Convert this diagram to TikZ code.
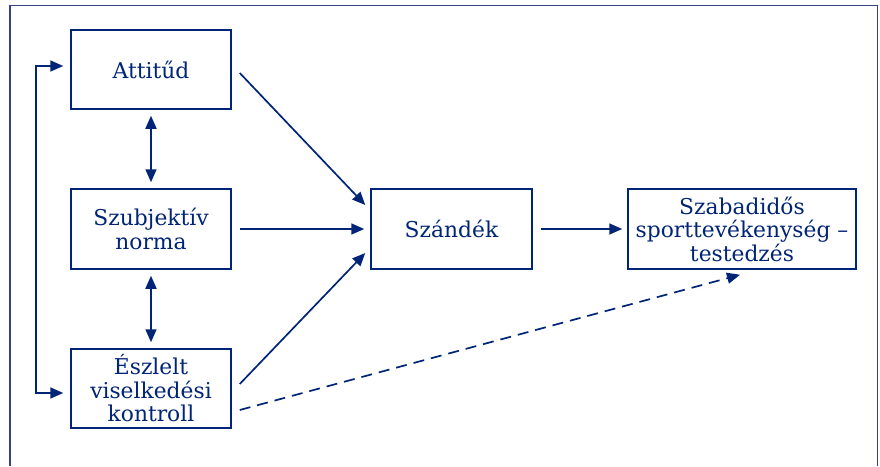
\documentclass[tikz,border=0pt]{standalone}
\usepackage{fontspec}
\setmainfont{DejaVu Serif}
\usetikzlibrary{arrows.meta,calc}
\definecolor{navy}{RGB}{0,36,118}
\definecolor{framec}{RGB}{55,65,135}
\begin{document}
\begin{tikzpicture}[x=1pt,y=-1pt,
  box/.style={draw=navy,line width=1.5pt,minimum width=160pt,minimum height=79pt,inner sep=0pt,align=center,text=navy,font=\fontsize{21.8}{23.5}\selectfont},
  arr/.style={draw=navy,line width=1.7pt,-{Triangle[length=13pt,width=11pt]}},
  dbl/.style={draw=navy,line width=1.7pt,{Triangle[length=13pt,width=11pt]}-{Triangle[length=13pt,width=11pt]}},
  dsh/.style={arr,dash pattern=on 11pt off 7pt}]
\useasboundingbox (0,0) rectangle (880,466);
\draw[framec,line width=1.8pt] (10,466) -- (10,5.5) -- (877.5,5.5) -- (877.5,466);
\node[box] (att) at (151,69.5) {Attitűd};
\node[box,minimum height=80pt] (szub) at (151,229) {Szubjektív\\norma};
\node[box] (esz) at (151,388.5) {Észlelt\\viselkedési\\kontroll};
\node[box,minimum width=161pt,minimum height=80pt] (sza) at (451.5,229) {Szándék};
\node[box,minimum width=228pt,minimum height=80pt] (szab) at (742,229) {Szabadidős\\sporttevékenység –\\testedzés};
\draw[dbl,shorten <=6pt,shorten >=6pt] (att.south) -- (szub.north);
\draw[dbl,shorten <=6pt,shorten >=6pt] (szub.south) -- (esz.north);
\draw[dbl] ($(att.west)+(-7,-3.5)$) -- ++(-27,0) |- ($(esz.west)+(-7,4.5)$);
\draw[arr] ($(att.east)+(8,3.5)$) -- ($(sza.west)+(-5,-24)$);
\draw[arr] (szub.east) ++(8,0) -- ($(sza.west)+(-6,0)$);
\draw[arr] ($(esz.east)+(8,-4.5)$) -- ($(sza.west)+(-5,24)$);
\draw[arr] (sza.east) ++(8,0) -- ($(szab.west)+(-5,0)$);
\draw[dsh] ($(esz.east)+(8,21.5)$) -- ($(szab.south)+(-2,5)$);
\end{tikzpicture}
\end{document}
